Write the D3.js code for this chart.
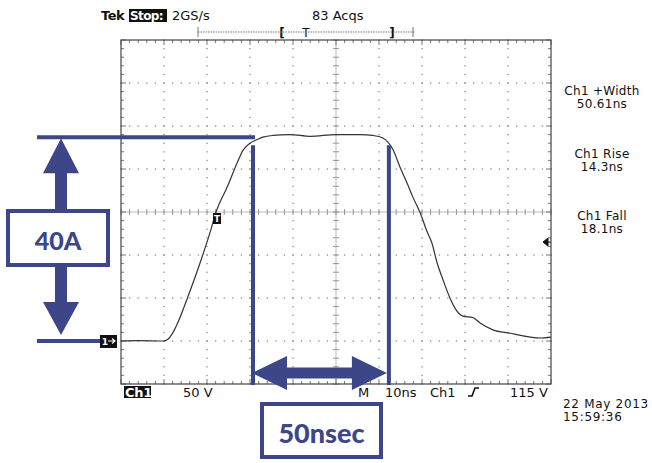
<!DOCTYPE html>
<html><head><meta charset="utf-8">
<script src="https://cdn.jsdelivr.net/npm/d3@7"></script>
<style>
html,body{margin:0;padding:0;background:#fff;}
svg{display:block;}
</style></head>
<body>
<svg id="c" width="652" height="463"></svg>
<script>
// ---- data ----
const timeNs = [0, 4, 9.8, 10.9, 12.1, 13.7, 15.3, 18.4, 20.7, 22.1, 24.7, 27.0, 28.4, 30.0, 31.6, 33.0, 35.3, 39.3, 44.0, 50.0, 55.6, 58.6, 60.9, 63.3, 64.9, 66.5, 67.9, 69.5, 71.2, 72.3, 73.5, 74.9, 76.5, 77.7, 79.5, 81.9, 83.5, 86.5, 90.5, 93.5, 97.4, 100];
const volts  = [0, 0.5, 0, 2, 10, 27, 48, 91, 126, 150, 179, 207, 222, 230, 234, 237, 239, 240, 238, 240, 240, 239, 236, 222, 202, 184, 167, 150, 127, 114, 91, 71, 50, 38, 29, 27, 21, 13, 9, 6, 3.5, 4.5];
const measureLabels = ["Ch1 +Width", "Ch1 Rise", "Ch1 Fall"];
const measureValues = ["50.61ns", "14.3ns", "18.1ns"];
const annotLevels = [0, 237];      // V : baseline and top of pulse
const annotTimes = [30.7, 62.3];   // ns : pulse width markers
const annotTexts = ["40A", "50nsec"];

const svg = d3.select("#c");
const X0 = 121, X1 = 551, Y0 = 40, Y1 = 384;
const x = d3.scaleLinear().domain([0, 100]).range([X0, X1]);
const y = d3.scaleLinear().domain([-50, 350]).range([Y1, Y0]);
const BLUE = "#3c4688";
const scopeFont = "'DejaVu Sans', sans-serif";

const xMajor = d3.range(0, 101, 10), yMajor = d3.range(-50, 351, 50);
const xMinor = d3.range(0, 100.01, 2), yMinor = d3.range(-50, 350.01, 10);

// dotted graticule
const g = svg.append("g");
xMajor.filter(v => v > 0 && v < 100 && v !== 50).forEach(v => {
  yMinor.forEach(w => g.append("rect").attr("x", x(v) - 0.6).attr("y", y(w) - 0.6).attr("width", 1.3).attr("height", 1.3).attr("fill", "#8a8a8a"));
});
yMajor.filter(w => w > -50 && w < 350 && w !== 150).forEach(w => {
  xMinor.forEach(v => g.append("rect").attr("x", x(v) - 0.6).attr("y", y(w) - 0.6).attr("width", 1.3).attr("height", 1.3).attr("fill", "#8a8a8a"));
});
// center cross
g.append("line").attr("x1", X0).attr("x2", X1).attr("y1", y(150)).attr("y2", y(150)).attr("stroke", "#aaa").attr("stroke-width", 0.8);
g.append("line").attr("x1", x(50)).attr("x2", x(50)).attr("y1", Y0).attr("y2", Y1).attr("stroke", "#aaa").attr("stroke-width", 0.8);
xMinor.forEach(v => g.append("line").attr("x1", x(v)).attr("x2", x(v)).attr("y1", y(150) - 3).attr("y2", y(150) + 3).attr("stroke", "#888").attr("stroke-width", 0.9));
yMinor.forEach(w => g.append("line").attr("x1", x(50) - 3).attr("x2", x(50) + 3).attr("y1", y(w)).attr("y2", y(w)).attr("stroke", "#888").attr("stroke-width", 0.9));
// border ticks
xMinor.forEach(v => {
  const L = (v % 10 === 0) ? 5 : 3;
  g.append("line").attr("x1", x(v)).attr("x2", x(v)).attr("y1", Y0).attr("y2", Y0 + L).attr("stroke", "#666").attr("stroke-width", 0.9);
  g.append("line").attr("x1", x(v)).attr("x2", x(v)).attr("y1", Y1).attr("y2", Y1 - L).attr("stroke", "#666").attr("stroke-width", 0.9);
});
yMinor.forEach(w => {
  const L = (w % 50 === 0) ? 5 : 3;
  g.append("line").attr("x1", X0).attr("x2", X0 + L).attr("y1", y(w)).attr("y2", y(w)).attr("stroke", "#666").attr("stroke-width", 0.9);
  g.append("line").attr("x1", X1).attr("x2", X1 - L).attr("y1", y(w)).attr("y2", y(w)).attr("stroke", "#666").attr("stroke-width", 0.9);
});
g.append("rect").attr("x", X0).attr("y", Y0).attr("width", X1 - X0).attr("height", Y1 - Y0).attr("fill", "none").attr("stroke", "#444").attr("stroke-width", 1.2);

// waveform
const pts = timeNs.map((t, i) => [t, volts[i]]);
svg.append("path").datum(pts)
  .attr("d", d3.line().x(d => x(d[0])).y(d => y(d[1])).curve(d3.curveMonotoneX))
  .attr("fill", "none").attr("stroke", "#333").attr("stroke-width", 1.2);

// trigger marker on trace
svg.append("rect").attr("x", x(22.1) - 3).attr("y", y(150) + 1).attr("width", 8).attr("height", 11).attr("fill", "#111");
svg.append("text").attr("x", x(22.1) + 1).attr("y", y(150) + 10).attr("text-anchor", "middle").attr("font-family", scopeFont).attr("font-size", 9).attr("font-weight", "bold").attr("fill", "#fff").text("T");
// ground marker
svg.append("rect").attr("x", 100).attr("y", y(0) - 6).attr("width", 17).attr("height", 13).attr("fill", "#111");
svg.append("text").attr("x", 105).attr("y", y(0) + 4).attr("text-anchor", "middle").attr("font-family", scopeFont).attr("font-size", 9).attr("font-weight", "bold").attr("fill", "#fff").text("1");
svg.append("path").attr("d", `M108,${y(0)} L115,${y(0)} M112,${y(0) - 2.5} L115,${y(0)} L112,${y(0) + 2.5}`).attr("stroke", "#fff").attr("stroke-width", 1.2).attr("fill", "none");
// trigger level arrow (right)
const tl = y(115);
svg.append("path").attr("d", `M543,${tl} L548,${tl - 4} L548,${tl + 4} Z M548,${tl} L551,${tl}`).attr("fill", "#111").attr("stroke", "#111").attr("stroke-width", 1);

// header
svg.append("rect").attr("x", 129).attr("y", 9).attr("width", 38).attr("height", 13).attr("fill", "#111");
const hdr = svg.append("g").attr("font-family", scopeFont).attr("font-size", 13).attr("fill", "#111");
hdr.append("text").attr("x", 101).attr("y", 20).attr("font-weight", "bold").attr("letter-spacing", -0.5).text("Tek");
hdr.append("text").attr("x", 130).attr("y", 20).attr("font-weight", "bold").attr("font-size", 12).attr("letter-spacing", -0.6).attr("fill", "#fff").text("Stop:");
hdr.append("text").attr("x", 172).attr("y", 20).text("2GS/s");
hdr.append("text").attr("x", 312).attr("y", 20).text("83 Acqs");
// record bracket
svg.append("line").attr("x1", 198).attr("x2", 415).attr("y1", 32).attr("y2", 32).attr("stroke", "#777").attr("stroke-width", 1).attr("stroke-dasharray", "1.5,1");
[198, 413].forEach(px => svg.append("line").attr("x1", px).attr("x2", px).attr("y1", 27).attr("y2", 37).attr("stroke", "#777").attr("stroke-width", 1));
hdr.append("text").attr("x", 282).attr("y", 37).attr("text-anchor", "middle").attr("font-size", 12).attr("font-weight", "bold").text("[");
hdr.append("text").attr("x", 306).attr("y", 37).attr("text-anchor", "middle").attr("font-size", 12).text("T");
hdr.append("text").attr("x", 392).attr("y", 37).attr("text-anchor", "middle").attr("font-size", 12).attr("font-weight", "bold").text("]");

// measurements
const meas = svg.append("g").attr("font-family", scopeFont).attr("font-size", 12).attr("fill", "#111").attr("text-anchor", "middle");
const measY = [95, 158, 220];
measureLabels.forEach((lab, i) => {
  meas.append("text").attr("x", 602).attr("y", measY[i]).attr("letter-spacing", 0.3).text(lab);
  meas.append("text").attr("x", 602).attr("y", measY[i] + 13).attr("letter-spacing", 0.3).text(measureValues[i]);
});

// bottom status
svg.append("rect").attr("x", 124).attr("y", 386).attr("width", 27).attr("height", 12).attr("fill", "#111");
const bot = svg.append("g").attr("font-family", scopeFont).attr("font-size", 13).attr("fill", "#111");
bot.append("text").attr("x", 125).attr("y", 397).attr("font-weight", "bold").attr("fill", "#fff").attr("letter-spacing", -0.3).text("Ch1");
bot.append("text").attr("x", 183).attr("y", 397).text("50 V");
bot.append("text").attr("x", 358).attr("y", 397).text("M");
bot.append("text").attr("x", 385).attr("y", 397).text("10ns");
bot.append("text").attr("x", 430).attr("y", 397).text("Ch1");
svg.append("path").attr("d", "M468,396 L472,396 L475,388 L479,388").attr("fill", "none").attr("stroke", "#111").attr("stroke-width", 1.6);
bot.append("text").attr("x", 510).attr("y", 397).text("115 V");
bot.append("text").attr("x", 563).attr("y", 408).attr("font-size", 12).attr("letter-spacing", 0.7).text("22 May 2013");
bot.append("text").attr("x", 563).attr("y", 421).attr("font-size", 12).attr("letter-spacing", 0.7).text("15:59:36");

// ---- blue annotations ----
const an = svg.append("g");
const yTop = y(annotLevels[1]), yBase = y(annotLevels[0]);
const xa = x(annotTimes[0]), xb = x(annotTimes[1]);
an.append("line").attr("x1", 37).attr("x2", xa + 2).attr("y1", yTop).attr("y2", yTop).attr("stroke", BLUE).attr("stroke-width", 4);
an.append("line").attr("x1", 37).attr("x2", 100).attr("y1", yBase).attr("y2", yBase).attr("stroke", BLUE).attr("stroke-width", 4);
[xa, xb].forEach(px => an.append("line").attr("x1", px).attr("x2", px).attr("y1", yTop + 8).attr("y2", Y1 + 1).attr("stroke", BLUE).attr("stroke-width", 4));

// vertical double arrow (40A)
const ax = 61, bx0 = 6, bx1 = 110, by0 = 209, by1 = 267;
an.append("path").attr("d",
  `M${ax},${yTop + 1} L${ax + 18},${yTop + 36} L${ax + 6},${yTop + 36} L${ax + 6},${by0} L${ax - 6},${by0} L${ax - 6},${yTop + 36} L${ax - 18},${yTop + 36} Z`)
  .attr("fill", BLUE);
an.append("path").attr("d",
  `M${ax},${yBase - 6} L${ax + 18},${yBase - 39} L${ax + 6},${yBase - 39} L${ax + 6},${by1} L${ax - 6},${by1} L${ax - 6},${yBase - 39} L${ax - 18},${yBase - 39} Z`)
  .attr("fill", BLUE);
an.append("rect").attr("x", bx0 + 2).attr("y", by0 + 2).attr("width", bx1 - bx0 - 4).attr("height", by1 - by0 - 4).attr("fill", "#fff").attr("stroke", BLUE).attr("stroke-width", 4);
an.append("text").attr("x", (bx0 + bx1) / 2).attr("y", 250).attr("text-anchor", "middle").attr("font-family", "Lato, 'Open Sans', sans-serif").attr("font-weight", 900).attr("font-size", 25).attr("fill", BLUE).text(annotTexts[0]);

// horizontal double arrow (50nsec)
const ay = 373;
an.append("path").attr("d",
  `M${xa - 1},${ay} L${xa + 34},${ay - 17} L${xa + 34},${ay - 5.5} L${xb - 37},${ay - 5.5} L${xb - 37},${ay - 17} L${xb - 2},${ay} L${xb - 37},${ay + 17} L${xb - 37},${ay + 5.5} L${xa + 34},${ay + 5.5} L${xa + 34},${ay + 17} Z`)
  .attr("fill", BLUE);
an.append("rect").attr("x", 262).attr("y", 404).attr("width", 119).attr("height", 53).attr("fill", "#fff").attr("stroke", BLUE).attr("stroke-width", 4);
an.append("text").attr("x", 321.5).attr("y", 443).attr("text-anchor", "middle").attr("font-family", "Lato, 'Open Sans', sans-serif").attr("font-weight", 900).attr("font-size", 27).attr("fill", BLUE).text(annotTexts[1]);
</script>
</body></html>
